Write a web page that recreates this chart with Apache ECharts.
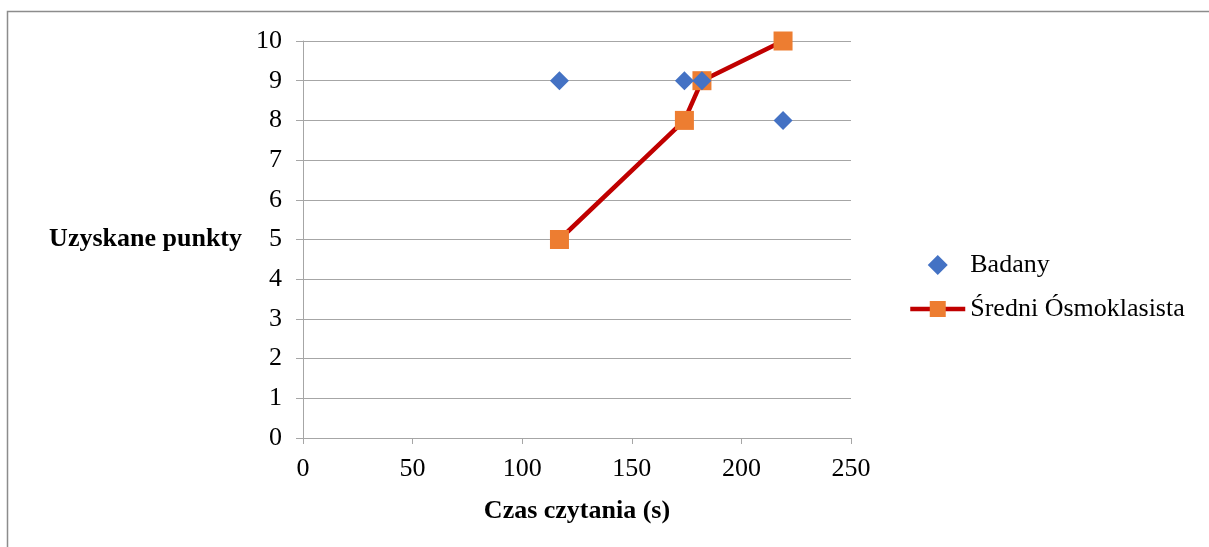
<!DOCTYPE html>
<html>
<head>
<meta charset="utf-8">
<script src="https://cdn.jsdelivr.net/npm/echarts@6/dist/echarts.min.js"></script>
<style>
  html, body { margin: 0; padding: 0; background: #fff; }
  #chart { width: 1209px; height: 547px; }
</style>
</head>
<body>
<div id="chart"></div>
<script>
// czas czytania (s) i uzyskane punkty
const badanyTime = [117, 174, 182, 219];
const badanyScore = [9, 9, 9, 8];
const sredniTime = [117, 174, 182, 219];
const sredniScore = [5, 8, 9, 10];

const font = 'Liberation Serif, Times New Roman, serif';
const gray = '#a6a6a6';

const chart = echarts.init(document.getElementById('chart'));

chart.setOption({
  animation: false,
  textStyle: { fontFamily: font },
  graphic: [
    {
      type: 'rect',
      shape: { x: 7.5, y: 11.5, width: 1220, height: 560 },
      style: { fill: 'none', stroke: '#8c8c8c', lineWidth: 1.5 },
      silent: true
    }
  ],
  grid: { left: 303, right: 358, top: 41, bottom: 109 },
  legend: {
    orient: 'vertical',
    left: 903,
    top: 247,
    itemWidth: 55,
    itemHeight: 20,
    itemGap: 18,
    lineStyle: { width: 4.5 },
    textStyle: { fontFamily: font, fontSize: 26, color: '#000', padding: [0, 0, 0, 0] },
    data: [
      { name: 'Badany', icon: 'path://M9 0L18 9L9 18L0 9Z' },
      'Średni Ósmoklasista'
    ]
  },
  xAxis: {
    type: 'value',
    min: 0,
    max: 250,
    interval: 50,
    name: 'Czas czytania (s)',
    nameLocation: 'middle',
    nameGap: 60,
    nameTextStyle: { fontFamily: font, fontSize: 26, fontWeight: 'bold', color: '#000' },
    axisLine: { show: true, lineStyle: { color: gray, width: 1 } },
    axisTick: { show: true, length: 6, lineStyle: { color: gray } },
    axisLabel: { fontFamily: font, fontSize: 26, color: '#000', margin: 18 },
    splitLine: { show: false }
  },
  yAxis: {
    type: 'value',
    min: 0,
    max: 10,
    interval: 1,
    name: 'Uzyskane punkty',
    nameLocation: 'middle',
    nameRotate: 0,
    nameGap: 61,
    nameTextStyle: { fontFamily: font, fontSize: 26, fontWeight: 'bold', color: '#000', align: 'right' },
    axisLine: { show: true, lineStyle: { color: gray, width: 1 } },
    axisTick: { show: true, length: 7, lineStyle: { color: gray } },
    axisLabel: { fontFamily: font, fontSize: 26, color: '#000', margin: 21 },
    splitLine: { show: true, lineStyle: { color: gray, width: 1 } }
  },
  series: [
    {
      name: 'Średni Ósmoklasista',
      type: 'line',
      data: sredniTime.map((t, i) => [t, sredniScore[i]]),
      symbol: 'rect',
      symbolSize: 19,
      itemStyle: { color: '#ed7d31', opacity: 1 },
      lineStyle: { color: '#c00000', width: 4.5 },
      z: 2
    },
    {
      name: 'Badany',
      type: 'scatter',
      data: badanyTime.map((t, i) => [t, badanyScore[i]]),
      symbol: 'diamond',
      symbolSize: [19, 19],
      itemStyle: { color: '#4472c4', opacity: 1 },
      z: 3
    }
  ]
});
</script>
</body>
</html>
